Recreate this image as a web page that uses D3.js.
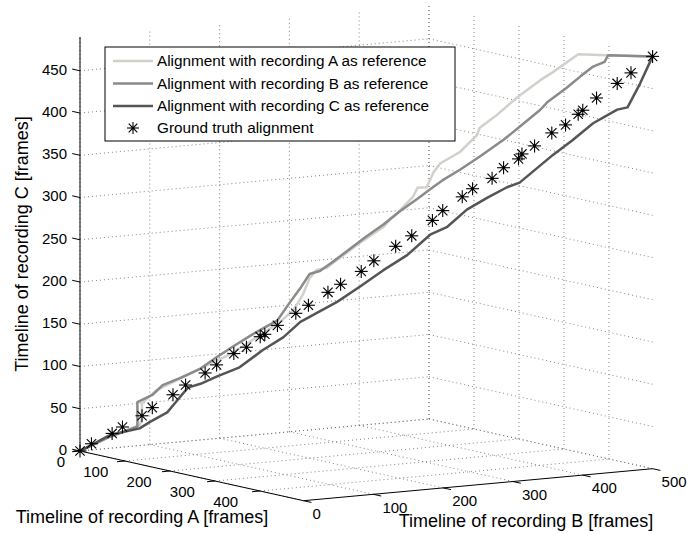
<!DOCTYPE html>
<html>
<head>
<meta charset="utf-8">
<script src="https://cdn.jsdelivr.net/npm/d3@7"></script>
<style>
  body { margin: 0; background: #fff; }
  svg { font-family: "Liberation Sans", Arial, Helvetica, sans-serif; }
</style>
</head>
<body>
<svg width="688" height="534"></svg>
<script>
// frames of [recording A, recording B, recording C] along each path
const refA = [[0,0,0],[26,26,18],[52,52,33],[54,54,41],[54,54,59],[67,67,75],[81,81,85],[98,98,97],[113,113,108],[128,128,118],[142,142,130],[157,157,144],[174,174,160],[186,186,175],[194,194,193],[200,200,213],[206,206,223],[215,215,226],[227,227,239],[244,244,257],[264,264,276],[270,270,285],[279,279,297],[290,290,313],[294,294,324],[302,302,325],[308,308,343],[314,314,354],[331,331,368],[346,346,389],[348,348,397],[363,363,413],[381,381,435],[401,401,456],[412,412,466],[434,434,488],[459,459,488],[497,500,488]];
const refB = [[0,0,0],[26,26,18],[50,50,31],[50,50,60],[63,63,69],[72,72,81],[87,87,90],[105,105,102],[119,119,116],[133,133,129],[151,151,145],[172,172,162],[183,183,184],[192,192,201],[200,200,218],[209,209,222],[220,220,233],[235,235,249],[250,250,265],[264,264,279],[279,279,296],[294,294,311],[308,308,326],[316,316,334],[331,331,347],[348,348,363],[369,369,384],[383,383,400],[401,401,421],[407,407,430],[424,424,448],[436,436,462],[447,447,474],[457,457,480],[460,460,488],[497,500,488]];
const refC = [[0,0,0],[26,26,20],[52,52,29],[61,61,37],[76,76,49],[85,85,64],[94,94,79],[105,105,84],[119,119,93],[139,139,105],[159,159,126],[177,177,142],[192,192,161],[206,206,172],[224,224,186],[244,244,205],[264,264,225],[285,285,244],[305,305,269],[320,320,279],[337,337,300],[355,355,315],[372,372,328],[383,383,334],[412,412,368],[429,429,386],[447,447,407],[468,468,424],[477,477,427],[488,488,456],[497,500,488]];
const groundTruth = [[0,0,0],[10,10,9],[28,28,22],[37,37,30],[54,54,44],[63,63,54],[81,81,70],[92,92,82],[109,109,97],[119,119,107],[134,134,121],[145,145,129],[157,157,142],[161,161,145],[172,172,156],[188,188,171],[199,199,181],[216,216,197],[227,227,207],[245,245,223],[256,256,236],[275,275,254],[289,289,267],[307,307,286],[316,316,298],[333,333,315],[342,342,325],[359,359,338],[369,369,351],[382,382,362],[385,385,368],[396,396,378],[411,411,394],[423,423,404],[434,434,417],[438,438,422],[450,450,437],[468,468,455],[480,480,468],[497,500,488]];

const legendLabels = [
  "Alignment with recording A as reference",
  "Alignment with recording B as reference",
  "Alignment with recording C as reference",
  "Ground truth alignment"
];
const lineColors = ["#d3d0cb", "#8a8a8a", "#555555"];

const svg = d3.select("svg");

// axis scales (each maps to 0..1 along its box edge)
const sA = d3.scaleLinear().domain([0, 497]).range([0, 1]);
const sB = d3.scaleLinear().domain([0, 500]).range([0, 1]);
const sC = d3.scaleLinear().domain([0, 490]).range([0, 1]);

// screen origin and box edge vectors of the 3-D view
const O = [80, 451];
const VA = [223.6, 49.7];
const VB = [349, -32];
const VC = [0, -414];

function proj(a, b, c) {
  const ta = sA(a), tb = sB(b), tc = sC(c);
  return [O[0] + ta*VA[0] + tb*VB[0] + tc*VC[0],
          O[1] + ta*VA[1] + tb*VB[1] + tc*VC[1]];
}

const aMax = sA.domain()[1], bMax = sB.domain()[1], cMax = sC.domain()[1];
const aTicks = sA.ticks(5), bTicks = sB.ticks(5), cTicks = sC.ticks(10);

// grid
const grid = svg.append("g")
  .attr("stroke", "#666")
  .attr("stroke-width", 0.8)
  .attr("stroke-dasharray", "1,3")
  .attr("fill", "none");
function seg(g, p, q) {
  g.append("line").attr("x1", p[0]).attr("y1", p[1]).attr("x2", q[0]).attr("y2", q[1]);
}
// back wall A = 0
cTicks.forEach(c => seg(grid, proj(0, 0, c), proj(0, bMax, c)));
bTicks.forEach(b => seg(grid, proj(0, b, 0), proj(0, b, cMax)));
// back wall B = max
cTicks.forEach(c => seg(grid, proj(0, bMax, c), proj(aMax, bMax, c)));
aTicks.forEach(a => seg(grid, proj(a, bMax, 0), proj(a, bMax, cMax)));
// floor
aTicks.forEach(a => seg(grid, proj(a, 0, 0), proj(a, bMax, 0)));
bTicks.forEach(b => seg(grid, proj(0, b, 0), proj(aMax, b, 0)));

// axes
const axes = svg.append("g").attr("stroke", "#000").attr("stroke-width", 1).attr("fill", "none");
seg(axes, proj(0, 0, 0), proj(0, 0, cMax));
seg(axes, proj(0, 0, 0), proj(aMax, 0, 0));
seg(axes, proj(aMax, 0, 0), proj(aMax, bMax, 0));

const tickLen = 8;
cTicks.forEach(c => {
  const p = proj(0, 0, c);
  seg(axes, p, [p[0] - tickLen*0.976, p[1] - tickLen*0.217]);
  svg.append("text").attr("x", 67).attr("y", p[1] - 1.5).attr("dy", "0.35em")
    .attr("text-anchor", "end").attr("font-size", 15).text(c);
});
aTicks.forEach(a => {
  const p = proj(a, 0, 0);
  seg(axes, p, [p[0] - tickLen*0.996, p[1] + tickLen*0.091]);
  svg.append("text").attr("x", p[0] - 15 - a*0.017).attr("y", p[1] + 11).attr("dy", "0.35em")
    .attr("text-anchor", "end").attr("font-size", 15).text(a);
});
bTicks.forEach(b => {
  const p = proj(aMax, b, 0);
  seg(axes, p, [p[0] + tickLen*0.976, p[1] + tickLen*0.217]);
  svg.append("text").attr("x", p[0] + 9).attr("y", p[1] + 13).attr("dy", "0.35em")
    .attr("text-anchor", "start").attr("font-size", 15).text(b);
});

// axis titles
svg.append("text").attr("x", 142).attr("y", 523).attr("text-anchor", "middle")
  .attr("font-size", 18).text("Timeline of recording A [frames]");
svg.append("text").attr("x", 526).attr("y", 527).attr("text-anchor", "middle")
  .attr("font-size", 18).text("Timeline of recording B [frames]");
svg.append("text").attr("transform", "translate(28,244) rotate(-90)").attr("text-anchor", "middle")
  .attr("font-size", 18).text("Timeline of recording C [frames]");

// alignment paths
const line = d3.line().x(d => proj(d[0], d[1], d[2])[0]).y(d => proj(d[0], d[1], d[2])[1]);
[refA, refB, refC].forEach((path, i) => {
  svg.append("path").datum(path)
    .attr("d", line)
    .attr("fill", "none")
    .attr("stroke", lineColors[i])
    .attr("stroke-width", 2.5)
    .attr("stroke-linejoin", "round");
});

// asterisk marker
function star(g, x, y, r) {
  const s = g.append("g").attr("transform", `translate(${x},${y})`)
    .attr("stroke", "#000").attr("stroke-width", 1.1);
  const d = r * 0.72;
  s.append("line").attr("x1", -r).attr("y1", 0).attr("x2", r).attr("y2", 0);
  s.append("line").attr("x1", 0).attr("y1", -r).attr("x2", 0).attr("y2", r);
  s.append("line").attr("x1", -d).attr("y1", -d).attr("x2", d).attr("y2", d);
  s.append("line").attr("x1", -d).attr("y1", d).attr("x2", d).attr("y2", -d);
  s.append("circle").attr("r", 1.6).attr("fill", "#000").attr("stroke", "none");
}
const marks = svg.append("g");
groundTruth.forEach(d => {
  const p = proj(d[0], d[1], d[2]);
  star(marks, p[0], p[1], 6.5);
});

// legend
const legend = svg.append("g");
legend.append("rect").attr("x", 105).attr("y", 47).attr("width", 350).attr("height", 94)
  .attr("fill", "#fff").attr("stroke", "#000").attr("stroke-width", 1);
const rowY = [61, 83.5, 106, 128];
legendLabels.forEach((t, i) => {
  if (i < 3) {
    legend.append("line").attr("x1", 113).attr("x2", 153).attr("y1", rowY[i]).attr("y2", rowY[i])
      .attr("stroke", lineColors[i]).attr("stroke-width", 2.5);
  } else {
    star(legend, 133, rowY[i], 6);
  }
  legend.append("text").attr("x", 157).attr("y", rowY[i]).attr("dy", "0.35em")
    .attr("font-size", 15.3).text(t);
});
</script>
</body>
</html>
